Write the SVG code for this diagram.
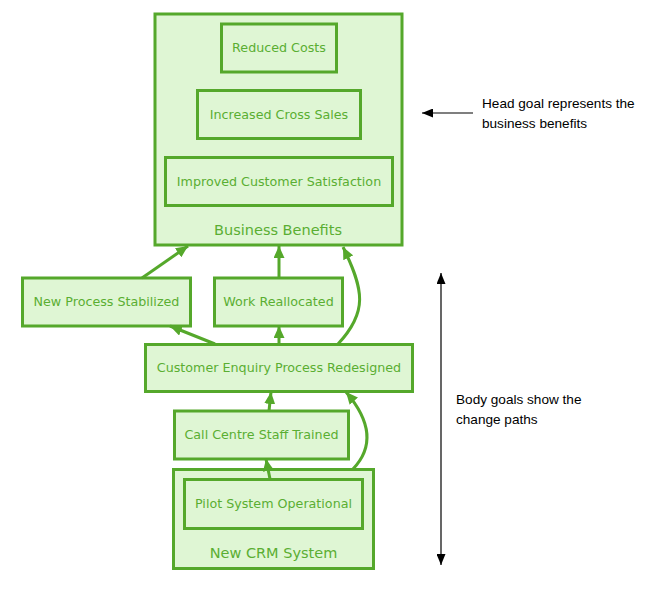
<svg xmlns="http://www.w3.org/2000/svg" width="663" height="596" viewBox="0 0 663 596">
<defs>
<style>
.box{fill:#dff6d4;stroke:#55a82b;stroke-width:3}
.lbl{font-family:"DejaVu Sans",sans-serif;font-size:12.7px;fill:#5aae32;text-anchor:middle}
.big{font-family:"DejaVu Sans",sans-serif;font-size:14.5px;fill:#5aae32;text-anchor:middle}
.con{fill:none;stroke:#55a82b;stroke-width:3;marker-end:url(#ga)}
.note{font-family:"Liberation Sans",Arial,sans-serif;font-size:13.6px;fill:#000}
.nl{fill:none;stroke:#000;stroke-width:1.2}
</style>
<marker id="ga" markerUnits="userSpaceOnUse" markerWidth="13" markerHeight="11" refX="12" refY="5.5" orient="auto">
<path d="M0,0 L12,5.5 L0,11 z" fill="#55a82b"/>
</marker>
<marker id="ba" markerUnits="userSpaceOnUse" markerWidth="12" markerHeight="9" refX="11" refY="4.5" orient="auto">
<path d="M0,0 L11,4.5 L0,9 z" fill="#000"/>
</marker>
<marker id="bs" markerUnits="userSpaceOnUse" markerWidth="12" markerHeight="9" refX="0" refY="4.5" orient="auto">
<path d="M11,0 L0,4.5 L11,9 z" fill="#000"/>
</marker>
</defs>
<rect width="663" height="596" fill="#fff"/>

<g id="business-benefits">
<rect class="box" x="155" y="14" width="247" height="231"/>
<text class="big" x="278" y="235">Business Benefits</text>
</g>
<g id="reduced-costs">
<rect class="box" x="221.5" y="24" width="115" height="48"/>
<text class="lbl" x="279" y="52">Reduced Costs</text>
</g>
<g id="increased-cross-sales">
<rect class="box" x="197.5" y="90.5" width="163" height="48"/>
<text class="lbl" x="279" y="119">Increased Cross Sales</text>
</g>
<g id="improved-customer-satisfaction">
<rect class="box" x="165.5" y="157.5" width="227" height="48"/>
<text class="lbl" x="279" y="186">Improved Customer Satisfaction</text>
</g>
<g id="new-process-stabilized">
<rect class="box" x="22.5" y="278" width="168" height="48"/>
<text class="lbl" x="106.5" y="306">New Process Stabilized</text>
</g>
<g id="work-reallocated">
<rect class="box" x="214.5" y="278" width="128" height="48"/>
<text class="lbl" x="278.5" y="306">Work Reallocated</text>
</g>
<g id="customer-enquiry-process-redesigned">
<rect class="box" x="145.5" y="344.5" width="267" height="47"/>
<text class="lbl" x="279" y="372">Customer Enquiry Process Redesigned</text>
</g>
<g id="call-centre-staff-trained">
<rect class="box" x="174.5" y="411" width="174" height="48"/>
<text class="lbl" x="261.5" y="439">Call Centre Staff Trained</text>
</g>
<g id="new-crm-system">
<rect class="box" x="173.5" y="469.5" width="200" height="99"/>
<text class="big" x="273.5" y="558">New CRM System</text>
</g>
<g id="pilot-system-operational">
<rect class="box" x="184.5" y="479.5" width="178" height="49"/>
<text class="lbl" x="273.5" y="508">Pilot System Operational</text>
</g>

<g id="connectors">
<path class="con" d="M142,278 L188,246"/>
<path class="con" d="M279,278 L279,246"/>
<path class="con" d="M338,344 C368,312 364,290 343,247"/>
<path class="con" d="M215,344 L170,326"/>
<path class="con" d="M279,344 L279,326"/>
<path class="con" d="M269,411 L271,392"/>
<path class="con" d="M270,479 L266,459"/>
<path class="con" d="M353,469 C375,446 370,420 346,392"/>
</g>

<g id="annotations">
<path class="nl" d="M473,113 L422,113" marker-end="url(#ba)"/>
<text class="note"><tspan x="482" y="108">Head goal represents the</tspan><tspan x="482" y="128">business benefits</tspan></text>
<path class="nl" d="M441,273 L441,565" marker-start="url(#bs)" marker-end="url(#ba)"/>
<text class="note"><tspan x="456" y="404">Body goals show the</tspan><tspan x="456" y="424">change paths</tspan></text>
</g>
</svg>
